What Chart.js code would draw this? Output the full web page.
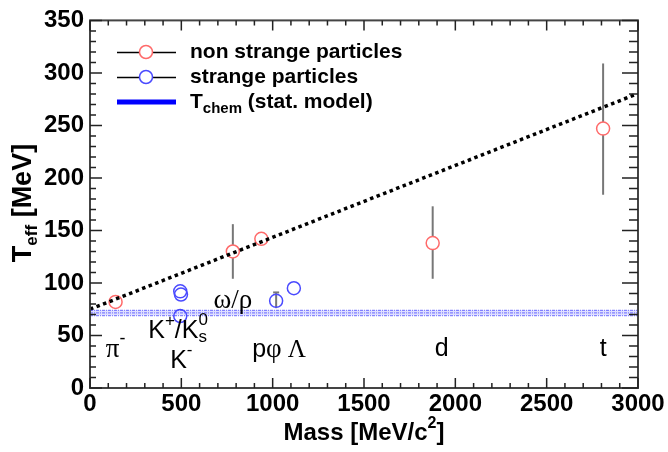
<!DOCTYPE html>
<html lang="en">
<head>
  <meta charset="UTF-8">
  <title>Teff vs mass</title>
  <script src="https://cdn.jsdelivr.net/npm/chart.js"></script>
  <style>
    body { margin:0; background:#fff; }
    #wrap { width:668px; height:452px; }
  </style>
</head>
<body>
  <div id="wrap"><canvas id="chart"></canvas></div>
  <script>
    // non strange particles (pi-, omega/rho, p, d, t)
    const nsMass  = [140, 782, 938, 1876, 2809];
    const nsT     = [82, 130, 142, 138, 247];
    const nsErrLo = [null, 104, null, 104, 184];
    const nsErrHi = [null, 156, null, 173, 309];

    // strange particles (K+, K0s, K-, phi, Lambda)
    const sMass  = [494, 498, 494, 1019, 1116];
    const sT     = [92, 89, 68.5, 83, 95];
    const sErrLo = [null, null, null, 76, null];
    const sErrHi = [null, null, null, 91, null];

    // dotted linear trend
    const trendMass = [0, 2980];
    const trendT    = [75, 279];

    // T_chem band (stat. model)
    const chemMass = [0, 3000];
    const chemHi   = [74, 74];
    const chemMid  = [71.5, 71.5];
    const chemLo   = [69, 69];

    const xTicks = [0, 500, 1000, 1500, 2000, 2500, 3000];
    const yTicks = [0, 50, 100, 150, 200, 250, 300, 350];

    // particle labels: [mass, T, parts]
    const SANS = "'Liberation Sans', Arial, sans-serif";
    const SERIF = "'Liberation Serif', 'Times New Roman', serif";
    const particleLabels = [
      [140, 36, [{t:'\u03c0', f:'27px '+SERIF}, {t:'-', f:'18px '+SANS, dy:-11}]],
      [482, 54, [{t:'K', f:'25px '+SANS}, {t:'+', f:'17px '+SANS, dy:-10}, {t:'/K', f:'25px '+SANS},
                 {t:'0', f:'17px '+SANS, dy:-11, noAdv:true}, {t:'s', f:'17px '+SANS, dy:6}]],
      [500, 26, [{t:'K', f:'25px '+SANS}, {t:'-', f:'17px '+SANS, dy:-10}]],
      [782, 82.5, [{t:'\u03c9/\u03c1', f:'27px '+SERIF}]],
      [1035, 36, [{t:'p', f:'25px '+SANS}, {t:'\u03c6', f:'27px '+SERIF}, {t:' \u039b', f:'25px '+SERIF}]],
      [1925, 37.5, [{t:'d', f:'25px '+SANS}]],
      [2809, 37.5, [{t:'t', f:'25px '+SANS}]]
    ];

    function drawRich(ctx, parts, x, y, align) {
      let w = 0;
      parts.forEach(p => { ctx.font = p.f; p._w = p.noAdv ? 0 : ctx.measureText(p.t).width; });
      parts.forEach((p, i) => {
        if (p.noAdv) return;
        let pw = p._w;
        if (i > 0 && parts[i-1].noAdv) { ctx.font = parts[i-1].f; pw = Math.max(pw, ctx.measureText(parts[i-1].t).width); }
        w += pw;
      });
      let cx = align === 'center' ? x - w / 2 : x;
      ctx.textBaseline = 'middle';
      ctx.textAlign = 'left';
      parts.forEach(p => {
        ctx.font = p.f;
        ctx.fillText(p.t, cx, y + (p.dy || 0));
        cx += p._w;
      });
    }

    const overlay = {
      id: 'overlay',
      beforeDatasetsDraw(chart) {
        const {ctx, scales:{x, y}} = chart;
        ctx.save();
        ctx.strokeStyle = '#777';
        ctx.lineWidth = 2;
        chart.data.datasets.forEach(ds => {
          if (!ds.errLo) return;
          ds.data.forEach((pt, i) => {
            if (ds.errLo[i] == null) return;
            const px = x.getPixelForValue(pt.x);
            ctx.beginPath();
            ctx.moveTo(px, y.getPixelForValue(ds.errLo[i]));
            ctx.lineTo(px, y.getPixelForValue(ds.errHi[i]));
            ctx.stroke();
            if (ds.errCap) {
              ctx.beginPath();
              ctx.moveTo(px - 3, y.getPixelForValue(ds.errHi[i]));
              ctx.lineTo(px + 3, y.getPixelForValue(ds.errHi[i]));
              ctx.stroke();
            }
          });
        });
        ctx.restore();
      },
      afterDraw(chart) {
        const {ctx, chartArea:a, scales:{x, y}} = chart;
        ctx.save();
        // frame
        ctx.strokeStyle = '#444';
        ctx.lineWidth = 2;
        ctx.strokeRect(a.left, a.top, a.right - a.left, a.bottom - a.top);
        // inward ticks
        ctx.lineWidth = 1.5;
        ctx.strokeStyle = '#222';
        for (let v = x.min; v <= x.max; v += 100) {
          const px = x.getPixelForValue(v);
          const len = v % 500 === 0 ? 10 : 5;
          ctx.beginPath();
          ctx.moveTo(px, a.bottom); ctx.lineTo(px, a.bottom - len);
          ctx.moveTo(px, a.top); ctx.lineTo(px, a.top + len);
          ctx.stroke();
        }
        for (let v = y.min; v <= y.max; v += 10) {
          const py = y.getPixelForValue(v);
          const major = v % 50 === 0;
          ctx.beginPath();
          ctx.moveTo(a.left, py); ctx.lineTo(a.left + (major ? 12 : 6), py);
          ctx.moveTo(a.right, py); ctx.lineTo(a.right - (major ? 16 : 9), py);
          ctx.stroke();
        }
        // particle labels
        ctx.fillStyle = '#000';
        particleLabels.forEach(([m, t, parts]) => {
          drawRich(ctx, parts, x.getPixelForValue(m), y.getPixelForValue(t), 'center');
        });
        // legend
        const lx0 = 117, lx1 = 176, lcx = 146, tx = 190;
        const rows = [52, 77, 102];
        ctx.strokeStyle = '#000'; ctx.lineWidth = 1.3;
        [0, 1].forEach(i => {
          ctx.beginPath(); ctx.moveTo(lx0, rows[i] + 0.5); ctx.lineTo(lx1, rows[i] + 0.5); ctx.stroke();
        });
        ctx.lineWidth = 1.5;
        [['#ff6a6a', rows[0]], ['#4a4aff', rows[1]]].forEach(([c, ry]) => {
          ctx.beginPath(); ctx.arc(lcx, ry, 6.5, 0, Math.PI * 2);
          ctx.fillStyle = '#fff'; ctx.fill();
          ctx.strokeStyle = c; ctx.stroke();
        });
        ctx.strokeStyle = '#0000ff'; ctx.lineWidth = 5;
        ctx.beginPath(); ctx.moveTo(lx0, rows[2]); ctx.lineTo(lx1, rows[2]); ctx.stroke();
        ctx.fillStyle = '#000';
        const LB = 'bold 21px ' + SANS;
        drawRich(ctx, [{t:'non strange particles', f:LB}], tx, rows[0]);
        drawRich(ctx, [{t:'strange particles', f:LB}], tx, rows[1]);
        drawRich(ctx, [{t:'T', f:LB}, {t:'chem', f:'bold 15px ' + SANS, dy:7}, {t:' (stat. model)', f:LB}], tx, rows[2]);
        // axis titles
        drawRich(ctx, [{t:'Mass [MeV/c', f:'bold 24px ' + SANS}, {t:'2', f:'bold 16px ' + SANS, dy:-9},
                       {t:']', f:'bold 24px ' + SANS}], (a.left + a.right) / 2, 433, 'center');
        ctx.translate(24, 203);
        ctx.rotate(-Math.PI / 2);
        drawRich(ctx, [{t:'T', f:'bold 27px ' + SANS}, {t:'eff', f:'bold 17px ' + SANS, dy:8},
                       {t:' [MeV]', f:'bold 27px ' + SANS}], 0, 0, 'center');
        ctx.restore();
      }
    };

    const pts = (xs, ys) => xs.map((v, i) => ({x: v, y: ys[i]}));
    const bandLine = (ys, fill) => ({
      type: 'line', data: pts(chemMass, ys), borderColor: 'rgba(60,60,255,0.6)', borderWidth: 1.2,
      borderDash: [3, 1, 1, 1], pointRadius: 0, fill: fill, backgroundColor: 'rgba(90,90,255,0.2)'
    });

    new Chart(document.getElementById('chart'), {
      type: 'scatter',
      data: {
        datasets: [
          bandLine(chemHi, '+2'),
          bandLine(chemMid, false),
          bandLine(chemLo, false),
          {
            type: 'line', data: pts(trendMass, trendT), borderColor: '#000', borderWidth: 3.5,
            borderDash: [3.5, 3.5], pointRadius: 0, fill: false
          },
          {
            data: pts(nsMass, nsT), errLo: nsErrLo, errHi: nsErrHi,
            pointRadius: 6.5, pointBorderWidth: 1.5, pointBorderColor: '#ff6a6a', pointBackgroundColor: '#fff'
          },
          {
            data: pts(sMass, sT), errLo: sErrLo, errHi: sErrHi, errCap: true,
            pointRadius: 6.5, pointBorderWidth: 1.5, pointBorderColor: '#4a4aff', pointBackgroundColor: 'rgba(255,255,255,0)'
          }
        ]
      },
      options: {
        responsive: true,
        maintainAspectRatio: false,
        animation: false,
        layout: { padding: { top: 16, right: 30, left: 0, bottom: 0 } },
        plugins: { legend: { display: false }, tooltip: { enabled: false } },
        scales: {
          x: {
            type: 'linear', min: 0, max: 3000,
            afterBuildTicks: s => { s.ticks = xTicks.map(v => ({value: v})); },
            afterFit: s => { s.height = 64; },
            grid: { display: false, drawTicks: false },
            border: { display: false },
            ticks: { padding: 2, color: '#000', maxRotation: 0, callback: v => String(v),
                     font: { family: SANS, size: 24, weight: 'bold' } }
          },
          y: {
            min: 0, max: 350,
            afterBuildTicks: s => { s.ticks = yTicks.map(v => ({value: v})); },
            afterFit: s => { s.width = 90; },
            grid: { display: false, drawTicks: false },
            border: { display: false },
            ticks: { padding: 6, color: '#000', callback: v => String(v),
                     font: { family: SANS, size: 24, weight: 'bold' } }
          }
        }
      },
      plugins: [overlay]
    });
  </script>
</body>
</html>
